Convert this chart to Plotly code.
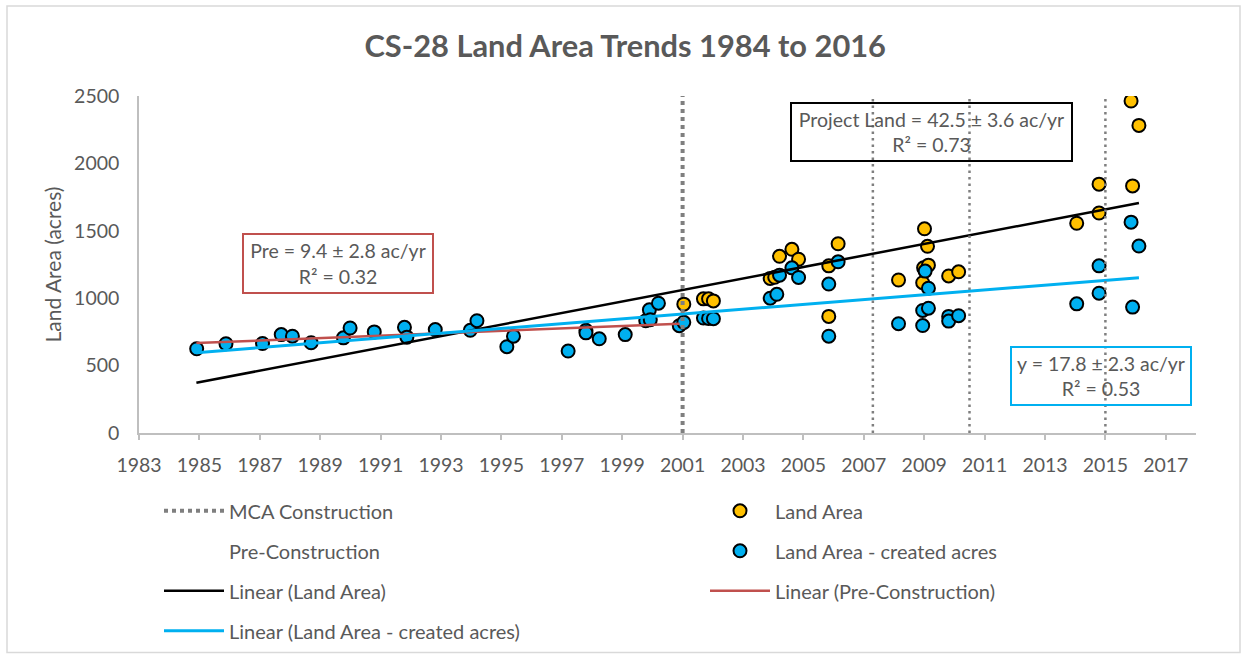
import plotly.graph_objects as go

# ---- data ----
land_years = [2001.04, 2001.69, 2001.86, 2002.02, 2003.90, 2004.05, 2004.21, 2004.62, 2004.84,
              2005.84, 2005.84, 2006.15, 2008.15, 2008.95, 2008.98, 2009.01, 2009.11, 2009.14,
              2009.81, 2010.14, 2014.05, 2014.79, 2014.79, 2015.85, 2015.90, 2016.11]
land_area = [956, 995, 995, 980, 1147, 1155, 1311, 1363, 1289,
             1240, 865, 1404, 1135, 1115, 1225, 1515, 1385, 1245,
             1165, 1196, 1556, 1632, 1846, 2463, 1833, 2282]

created_years = [1984.91, 1985.88, 1987.09, 1987.71, 1988.08, 1988.70, 1989.77, 1989.99, 1990.79,
                 1991.79, 1991.87, 1992.81, 1993.97, 1994.19, 1995.18, 1995.40, 1997.21, 1997.80,
                 1997.80, 1998.24, 1999.10, 1999.78, 1999.90, 1999.93, 2000.20, 2000.89, 2001.04,
                 2001.69, 2001.86, 2002.02, 2003.90, 2004.12, 2004.21, 2004.62, 2004.84, 2005.84,
                 2005.84, 2006.15, 2008.15, 2008.95, 2008.95, 2009.03, 2009.14, 2009.14, 2009.81,
                 2009.81, 2010.14, 2014.05, 2014.79, 2014.79, 2015.85, 2015.90, 2016.11]
created_area = [625, 662, 664, 730, 718, 669, 706, 779, 750,
                784, 711, 767, 762, 833, 640, 718, 608, 762,
                743, 699, 730, 833, 914, 840, 963, 796, 821,
                853, 850, 848, 1000, 1029, 1171, 1225, 1154, 1105,
                718, 1270, 811, 909, 797, 1201, 1074, 926, 865,
                830, 870, 958, 1240, 1037, 1564, 934, 1387]

pre_years = created_years[:26]
pre_area = created_area[:26]

mca_years_major = [2001]
mca_years_minor = [2007.3, 2010.5, 2015]
y_span = [0, 2500]

trend_land_x = [1984.9, 2016.11]
trend_land_y = [373, 1706]
trend_created_x = [1984.9, 2016.11]
trend_created_y = [596, 1152]
trend_pre_x = [1984.9, 2000.9]
trend_pre_y = [667, 811]

x_ticks = list(range(1983, 2018, 2))
y_ticks = [0, 500, 1000, 1500, 2000, 2500]

FONT = "Lato, 'Open Sans', sans-serif"
GREY = "#595959"
ORANGE = "#FFC000"
BLUE = "#00B0F0"
RED = "#C0504D"
DOT = "#7F7F7F"

# plot area in pixels
L, R, T, B = 139, 1196, 96, 437
PW, PH = R - L, B - T


def px(xp):
    return (xp - L) / PW


def py(yp):
    return (B - yp) / PH


def vlines(xs):
    xx, yy = [], []
    for v in xs:
        xx += [v, v, None]
        yy += [y_span[0], y_span[1], None]
    return xx, yy


fig = go.Figure()

fig.add_trace(go.Scatter(x=land_years, y=land_area, mode="markers", name="Land Area",
                         marker=dict(color=ORANGE, size=13, line=dict(color="black", width=2)),
                         legend="legend2", legendrank=1, legendgroup="a"))
fig.add_trace(go.Scatter(x=created_years, y=created_area, mode="markers", name="Land Area - created acres",
                         marker=dict(color=BLUE, size=13, line=dict(color="black", width=2)),
                         legend="legend2", legendrank=2, legendgroup="b"))
fig.add_trace(go.Scatter(x=pre_years, y=pre_area, mode="markers", name="Pre-Construction",
                         marker=dict(color="rgba(0,0,0,0)", size=1, line=dict(width=0)),
                         legend="legend", legendrank=2, legendgroup="c", hoverinfo="skip"))

fig.add_trace(go.Scatter(x=trend_land_x, y=trend_land_y, mode="lines", name="Linear (Land Area)",
                         line=dict(color="black", width=2.5),
                         legend="legend", legendrank=3, legendgroup="d"))
fig.add_trace(go.Scatter(x=trend_pre_x, y=trend_pre_y, mode="lines", name="Linear (Pre-Construction)",
                         line=dict(color=RED, width=2.5),
                         legend="legend2", legendrank=3, legendgroup="e"))
fig.add_trace(go.Scatter(x=trend_created_x, y=trend_created_y, mode="lines",
                         name="Linear (Land Area - created acres)",
                         line=dict(color=BLUE, width=3),
                         legend="legend", legendrank=4, legendgroup="f"))

mx, my = vlines(mca_years_major)
fig.add_trace(go.Scatter(x=mx, y=my, mode="lines", name="MCA Construction",
                         line=dict(color=DOT, width=4, dash="dot"),
                         legend="legend", legendrank=1, legendgroup="g"))
nx, ny = vlines(mca_years_minor)
fig.add_trace(go.Scatter(x=nx, y=ny, mode="lines", name="MCA Construction",
                         line=dict(color=DOT, width=2.5, dash="2.5px,4px"),
                         showlegend=False, legendgroup="g"))

ann_common = dict(xref="x", yref="y", showarrow=False, align="center",
                  font=dict(family=FONT, size=19.5, color=GREY),
                  borderwidth=2, borderpad=2, bgcolor="rgba(255,255,255,0)")
annotations = [
    dict(x=1989.6, y=1261, text="Pre = 9.4 ± 2.8 ac/yr<br>R² = 0.32", bordercolor=RED,
         width=184, height=53, **ann_common),
    dict(x=2009.25, y=2235, text="Project Land = 42.5 ± 3.6 ac/yr<br>R² = 0.73", bordercolor="black",
         width=275, height=52, **ann_common),
    dict(x=2014.85, y=426, text="y = 17.8 ± 2.3 ac/yr<br>R² = 0.53", bordercolor=BLUE,
         width=174, height=52, **ann_common),
]

legend_common = dict(orientation="v", yanchor="top", xanchor="left",
                     font=dict(family=FONT, size=20, color=GREY),
                     bgcolor="rgba(0,0,0,0)", tracegroupgap=11, itemwidth=60,
                     traceorder="grouped")

fig.update_layout(
    width=1243, height=662,
    margin=dict(l=L, r=1243 - R, t=T, b=662 - B),
    paper_bgcolor="white", plot_bgcolor="white",
    font=dict(family=FONT, color=GREY),
    title=dict(text="<b>CS-28 Land Area Trends 1984 to 2016</b>", x=0.503, xref="container",
               y=1 - 46 / 662, yref="container", xanchor="center", yanchor="middle",
               font=dict(family=FONT, size=30.8, color=GREY)),
    xaxis=dict(range=[1983, 2018], tickvals=x_ticks, ticktext=[str(v) for v in x_ticks],
               showgrid=False, zeroline=False, showline=True, linecolor="#BFBFBF", linewidth=1.5,
               ticks="outside", ticklen=5, tickcolor="#BFBFBF", tickwidth=1.5, ticklabelstandoff=9,
               tickfont=dict(family=FONT, size=19.5, color=GREY)),
    yaxis=dict(range=[0, 2500], tickvals=y_ticks, showgrid=False, zeroline=False, showline=True,
               linecolor="#BFBFBF", linewidth=1.5, ticks="", ticklabelstandoff=14,
               tickfont=dict(family=FONT, size=19.5, color=GREY),
               title=dict(text="Land Area (acres)", font=dict(family=FONT, size=21, color=GREY),
                          standoff=7)),
    legend=dict(x=px(159), y=py(496), **legend_common),
    legend2=dict(x=px(705), y=py(496), **legend_common),
    annotations=annotations,
    shapes=[dict(type="rect", xref="paper", yref="paper",
                 x0=px(7), x1=px(1240), y0=py(659), y1=py(5),
                 line=dict(color="#D9D9D9", width=1.5), layer="below")],
    showlegend=True,
)

fig.write_html("out.html", config={"displayModeBar": False},
               post_script="document.body.style.margin='0';document.body.style.overflow='hidden';")
